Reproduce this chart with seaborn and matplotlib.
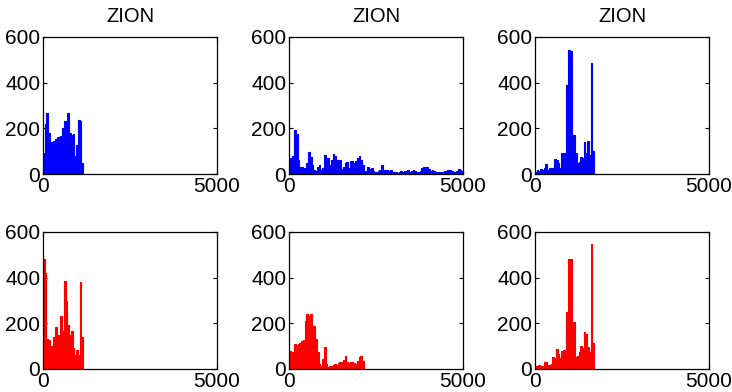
import matplotlib
matplotlib.use("Agg")
import matplotlib.pyplot as plt
import seaborn as sns
import numpy as np
import pandas as pd

BIN_WIDTH = 50
X_MAX = 5000
Y_MAX = 600
X_TICKS = [0, 5000]
Y_TICKS = [0, 200, 400, 600]
TITLE = "ZION"

# heights per 50-unit bin
top_left = [90, 220, 265, 180, 140, 90, 145, 155, 160, 90, 165, 200,
            230, 175, 265, 180, 170, 175, 80, 125, 235, 230, 50]

top_middle = [72, 47, 79, 193, 175, 61, 29, 29, 25, 20, 50, 95, 76, 40, 18,
              15, 32, 40, 18, 25, 83, 47, 69, 40, 61, 88, 80, 61, 40, 61,
              22, 32, 50, 54, 25, 57, 57, 47, 57, 69, 79, 61, 40, 13, 10,
              29, 20, 25, 13, 7, 10, 13, 18, 40, 18, 15, 18, 13, 18, 10,
              7, 10, 6, 10, 13, 10, 13, 15, 18, 10, 13, 18, 12, 9, 10,
              13, 25, 29, 25, 29, 22, 13, 18, 12, 9, 10, 9, 10, 9, 12,
              15, 18, 18, 15, 9, 9, 15, 20, 18, 12]

top_right = [10, 18, 13, 22, 18, 28, 44, 18, 25, 28, 25, 66, 61, 50, 25,
             93, 91, 72, 390, 543, 540, 171, 171, 91, 47, 54, 76, 72, 142,
             91, 146, 83, 485, 100]

bottom_left = [480, 420, 131, 128, 100, 70, 139, 182, 150, 100, 230, 165,
               387, 300, 194, 150, 165, 92, 63, 85, 60, 381, 139]

bottom_middle = [80, 61, 73, 109, 106, 109, 112, 121, 128, 211, 240, 233,
                 240, 146, 189, 131, 73, 22, 15, 44, 98, 22, 10, 15, 12, 18,
                 22, 19, 25, 29, 32, 39, 58, 29, 25, 29, 29, 26, 22, 36, 51,
                 55, 36]

bottom_right = [15, 10, 19, 15, 15, 32, 29, 19, 19, 22, 51, 48, 87, 65, 47,
                80, 83, 84, 250, 480, 480, 153, 207, 51, 55, 76, 102, 90,
                160, 153, 95, 73, 546, 116]

TOP_COLOR = "#0000ff"
BOTTOM_COLOR = "#ff0000"


def draw_panel(ax, heights, color, title=None):
    n = len(heights)
    df = pd.DataFrame({
        "x": np.arange(n) * BIN_WIDTH + BIN_WIDTH / 2,
        "w": heights,
    })
    sns.histplot(data=df, x="x", weights="w", binwidth=BIN_WIDTH,
                 binrange=(0, n * BIN_WIDTH), element="step", fill=True,
                 color=color, alpha=1, linewidth=0.8, ax=ax)
    ax.set_xlim(0, X_MAX)
    ax.set_ylim(0, Y_MAX)
    ax.set_xticks(X_TICKS)
    ax.set_yticks(Y_TICKS)
    ax.set_xlabel("")
    ax.set_ylabel("")
    ax.tick_params(direction="in", top=True, right=True, length=3,
                   labelsize=15, pad=2, width=0.8, colors="black")
    for s in ax.spines.values():
        s.set_visible(True)
        s.set_color("black")
        s.set_linewidth(0.9)
    if title:
        ax.set_title(title, fontsize=14.5, pad=11, color="black")


def main():
    sns.set_style("ticks")
    plt.rcParams["font.family"] = ["Liberation Sans", "DejaVu Sans"]

    fig = plt.figure(figsize=(7.32, 3.92), dpi=100)
    lefts = [43 / 732, 289 / 732, 535 / 732]
    w = 174 / 732
    h = 137 / 392
    bottoms = [1 - 174 / 392, 1 - 369 / 392]

    rows = [
        ([top_left, top_middle, top_right], TOP_COLOR, TITLE),
        ([bottom_left, bottom_middle, bottom_right], BOTTOM_COLOR, None),
    ]
    for r, (panels, color, title) in enumerate(rows):
        for c, heights in enumerate(panels):
            ax = fig.add_axes([lefts[c], bottoms[r], w, h])
            draw_panel(ax, heights, color, title)

    fig.savefig("out.png", dpi=100)
    plt.close(fig)


if __name__ == "__main__":
    main()
